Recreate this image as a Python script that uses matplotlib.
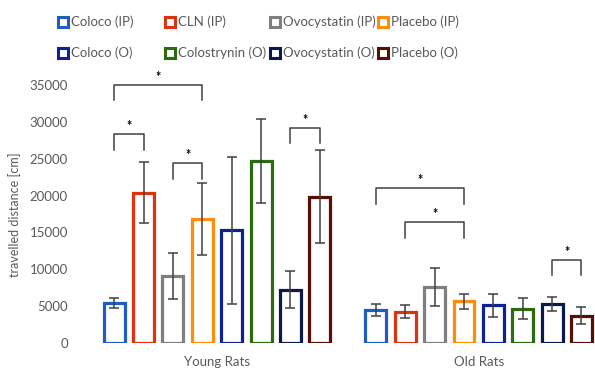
import numpy as np
import matplotlib
matplotlib.use('Agg')
import matplotlib.pyplot as plt
from matplotlib.lines import Line2D

plt.rcParams['font.family'] = ['Lato', 'DejaVu Sans']

# data
groups = ['Young Rats', 'Old Rats']
series = ['Coloco (IP)', 'CLN (IP)', 'Ovocystatin (IP)', 'Placebo (IP)',
          'Coloco (O)', 'Colostrynin (O)', 'Ovocystatin (O)', 'Placebo (O)']
colors = ['#1F5CC4', '#DD3311', '#7F7F7F', '#FF8C0A',
          '#0F2293', '#2B6C12', '#0C1A4A', '#560E05']
young = [5400, 20400, 9100, 16800, 15300, 24700, 7200, 19850]
young_err = [700, 4100, 3100, 4850, 10000, 5700, 2500, 6300]
old = [4480, 4250, 7640, 5650, 5100, 4650, 5270, 3700]
old_err = [800, 850, 2600, 970, 1540, 1400, 950, 1180]

# significance brackets: (group, bar a, bar b, top value, drop)
brackets = [(0, 0, 3, 35000, 2100), (0, 0, 1, 28400, 2200), (0, 2, 3, 24450, 2150),
            (0, 6, 7, 29200, 2100), (1, 0, 3, 21000, 2150), (1, 1, 3, 16350, 2150),
            (1, 6, 7, 11250, 2050)]

TEXT = '#595959'
fig = plt.figure(figsize=(5.95, 3.73), dpi=100)
ax = fig.add_axes([75 / 595, 30 / 373, 520 / 595, 283 / 373])

slot = 0.1122
width = 0.080
x0 = np.arange(len(groups))

def bar_x(g, i):
    return x0[g] + (i - 3.5) * slot

for i, name in enumerate(series):
    xs = [bar_x(0, i), bar_x(1, i)]
    vals = [young[i], old[i]]
    errs = [young_err[i], old_err[i]]
    ax.bar(xs, vals, width=width, facecolor='white', edgecolor=colors[i],
           linewidth=2.3, zorder=2)
    ax.errorbar(xs, vals, yerr=errs, fmt='none', ecolor='#404040',
                elinewidth=1.1, capsize=3.6, capthick=1.1, zorder=3)

for g, a, b, top, drop in brackets:
    xa, xb = bar_x(g, a), bar_x(g, b)
    ax.plot([xa, xa, xb, xb], [top - drop, top, top, top - drop],
            color='#404040', lw=1.1, clip_on=False, zorder=4)
    ax.text((xa + xb) / 2, top + 550, '*', ha='center', va='baseline',
            fontsize=9, fontweight='bold', color='black', clip_on=False)

ax.set_xlim(-142 / 261.7, 378 / 261.7)
ax.set_ylim(0, 283 / (258 / 35000))
ax.set_yticks(np.arange(0, 35001, 5000))
ax.set_xticks(x0)
ax.set_xticklabels(groups)
ax.tick_params(axis='both', length=0, labelsize=9.5, colors=TEXT)
ax.tick_params(axis='y', pad=5)
ax.tick_params(axis='x', pad=9)
for s in ax.spines.values():
    s.set_visible(False)
fig.text(15 / 595, 1 - 215 / 373, 'travelled distance [cm]', rotation=90,
         ha='center', va='center', fontsize=9, color=TEXT)

# legend drawn by hand, two rows of four
leg_x = [63, 170, 275, 383]
leg_y = [22, 53]
for k, name in enumerate(series):
    px = leg_x[k % 4]
    py = leg_y[k // 4]
    fx, fy = px / 595, 1 - py / 373
    fig.add_artist(Line2D([fx], [fy], marker='s', markersize=7.5,
                          markerfacecolor='white', markeredgecolor=colors[k],
                          markeredgewidth=2.2, transform=fig.transFigure))
    fig.text(fx + 8 / 595, fy, name, ha='left', va='center', fontsize=9.5, color=TEXT)

fig.savefig('out.png', dpi=100)
